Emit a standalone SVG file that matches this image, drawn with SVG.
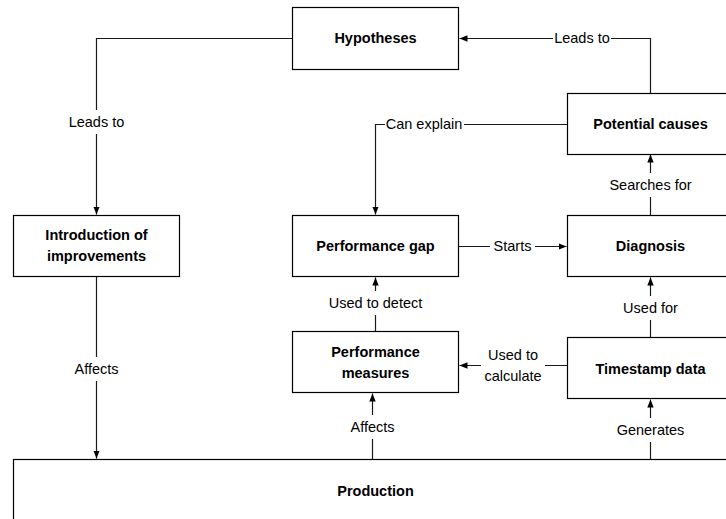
<svg xmlns="http://www.w3.org/2000/svg" width="726" height="519" viewBox="0 0 726 519">
<style>
.box{fill:#fff;stroke:#000;stroke-width:1.2}
.nt{font-family:"Liberation Sans",Arial,sans-serif;font-size:14.5px;font-weight:bold;fill:#000;text-anchor:middle}
.lt{font-family:"Liberation Sans",Arial,sans-serif;font-size:14.5px;fill:#000;text-anchor:middle}
.ln{fill:none;stroke:#1a1a1a;stroke-width:1.2}
.bg{fill:#fff}
</style>
<defs>
<marker id="ah" markerUnits="userSpaceOnUse" markerWidth="9" markerHeight="8" refX="8" refY="4" orient="auto">
<path d="M0,0.8 L8,4 L0,7.2 z" fill="#000"/>
</marker>
</defs>
<rect x="0" y="0" width="726" height="519" fill="#fff"/>
<g id="connectors">
<path class="ln" d="M292.5,38.5 H96.5 V214.5" marker-end="url(#ah)"/>
<path class="ln" d="M96.5,277 V458.5" marker-end="url(#ah)"/>
<path class="ln" d="M650.5,93 V38.5 H459.5" marker-end="url(#ah)"/>
<path class="ln" d="M567,124.5 H375.5 V214.5" marker-end="url(#ah)"/>
<path class="ln" d="M459,246.5 H566.5" marker-end="url(#ah)"/>
<path class="ln" d="M650.5,215 V154.5" marker-end="url(#ah)"/>
<path class="ln" d="M375.5,331 V277.5" marker-end="url(#ah)"/>
<path class="ln" d="M650.5,338 V277.5" marker-end="url(#ah)"/>
<path class="ln" d="M567,365.5 H459.5" marker-end="url(#ah)"/>
<path class="ln" d="M372.5,459 V393.5" marker-end="url(#ah)"/>
<path class="ln" d="M650.5,459 V399.5" marker-end="url(#ah)"/>
<rect class="bg" x="66" y="110" width="61" height="24"/>
<text class="lt" x="96.5" y="127">Leads to</text>
<rect class="bg" x="70" y="357" width="53" height="24"/>
<text class="lt" x="96.5" y="374">Affects</text>
<rect class="bg" x="553" y="30" width="58" height="17"/>
<text class="lt" x="582" y="43">Leads to</text>
<rect class="bg" x="385" y="116" width="79" height="17"/>
<text class="lt" x="424" y="129">Can explain</text>
<rect class="bg" x="490" y="238" width="45" height="17"/>
<text class="lt" x="512.5" y="251">Starts</text>
<rect class="bg" x="603" y="173" width="95" height="24"/>
<text class="lt" x="650.5" y="190">Searches for</text>
<rect class="bg" x="322" y="291" width="107" height="24"/>
<text class="lt" x="375.5" y="308">Used to detect</text>
<rect class="bg" x="617" y="296" width="67" height="24"/>
<text class="lt" x="650.5" y="313">Used for</text>
<rect class="bg" x="481" y="343" width="64" height="44"/>
<text class="lt" x="513" y="360">Used to</text>
<text class="lt" x="513" y="381">calculate</text>
<rect class="bg" x="345" y="415" width="55" height="24"/>
<text class="lt" x="372.5" y="432">Affects</text>
<rect class="bg" x="613" y="418" width="75" height="24"/>
<text class="lt" x="650.5" y="435">Generates</text>
</g>
<g id="hypotheses">
<rect class="box" x="292.5" y="7.5" width="166" height="62"/>
<text class="nt" x="375.5" y="43">Hypotheses</text>
</g>
<g id="potential-causes">
<rect class="box" x="567.5" y="93.5" width="166" height="61"/>
<text class="nt" x="650.5" y="129">Potential causes</text>
</g>
<g id="introduction">
<rect class="box" x="13.5" y="215.5" width="166" height="61"/>
<text class="nt" x="96.5" y="240">Introduction of</text>
<text class="nt" x="96.5" y="261">improvements</text>
</g>
<g id="performance-gap">
<rect class="box" x="292.5" y="215.5" width="166" height="61"/>
<text class="nt" x="375.5" y="251">Performance gap</text>
</g>
<g id="diagnosis">
<rect class="box" x="567.5" y="215.5" width="166" height="61"/>
<text class="nt" x="650.5" y="251">Diagnosis</text>
</g>
<g id="performance-measures">
<rect class="box" x="292.5" y="331.5" width="166" height="61"/>
<text class="nt" x="375.5" y="357">Performance</text>
<text class="nt" x="375.5" y="377.5">measures</text>
</g>
<g id="timestamp-data">
<rect class="box" x="567.5" y="337.5" width="166" height="61"/>
<text class="nt" x="650.5" y="373.5">Timestamp data</text>
</g>
<g id="production">
<rect class="box" x="13.5" y="459.5" width="760" height="100"/>
<text class="nt" x="375.5" y="496">Production</text>
</g>
</svg>
